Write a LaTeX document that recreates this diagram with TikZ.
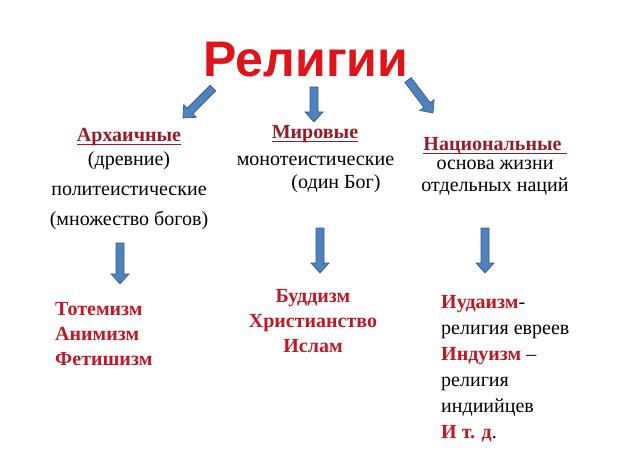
\documentclass[tikz,border=0pt]{standalone}
\usepackage{fontspec}
\setmainfont{Liberation Serif}
\newfontfamily\headfont{Liberation Sans}
\usetikzlibrary{positioning,calc}
\definecolor{titlered}{RGB}{222,20,26}
\definecolor{headred}{RGB}{152,28,40}
\definecolor{listred}{RGB}{192,24,36}
\definecolor{arrowfill}{RGB}{79,129,189}
\definecolor{arrowline}{RGB}{56,93,138}
% tight underline, just under the baseline
\newcommand{\kindline}[1]{\setbox0\hbox{#1}\rlap{\rule[-2.6pt]{\wd0}{1pt}}\box0}
% block arrow from #1 (tail) to #2 (tip)
\newcommand{\blockarrow}[2]{%
  \coordinate (#2h) at ($(#2)!10pt!(#1)$);
  \draw[blockarr] ($(#1)!4pt!90:(#2)$) -- ($(#2h)!4pt!90:(#2)$)
    -- ($(#2h)!9pt!90:(#2)$) -- (#2) -- ($(#2h)!9pt!-90:(#2)$)
    -- ($(#2h)!4pt!-90:(#2)$) -- ($(#1)!4pt!-90:(#2)$) -- cycle;}
\tikzset{
  bigtitle/.style={font=\headfont\bfseries\fontsize{50}{56}\selectfont,text=titlered,inner sep=0pt},
  kind/.style={font=\bfseries\fontsize{20}{24}\selectfont,text=headred,inner sep=0pt},
  note/.style={font=\fontsize{20}{30}\selectfont,align=center,inner sep=0pt},
  faith/.style={font=\bfseries\fontsize{20}{25}\selectfont,text=listred,inner sep=0pt},
  blockarr/.style={fill=arrowfill,draw=arrowline,line width=.7pt,line join=miter}
}
\begin{document}
\begin{tikzpicture}[x=1pt,y=-1pt]
  \useasboundingbox[fill=white] (0,0) rectangle (624,468);
  \node[bigtitle,anchor=base] (rel) at (306,77) {Религии};
  % three kinds (base = last line)
  \node[kind,anchor=base] (arch) at (129,142) {\kindline{Архаичные}};
  \node[note,anchor=base] (archtxt) at (129,225)
     {(древние)\\политеистические\\(множество богов)};
  \node[kind,anchor=base] (world) at (315,139) {\kindline{Мировые}};
  \node[note,anchor=base] (worldtxt) at (315.5,165) {монотеистические};
  \node[note,anchor=base] (god) at (336,189) {(один Бог)};
  \node[kind,anchor=base] (nat) at (495,151) {\kindline{Национальные\ }};
  \node[note,anchor=base,font=\fontsize{20}{21}\selectfont] (nattxt) at (495,191)
     {основа жизни\\отдельных наций};
  % examples
  \node[faith,anchor=base west,align=left] (archlist) at (55,365)
     {Тотемизм\\Анимизм\\Фетишизм};
  \node[faith,anchor=base,align=center] (worldlist) at (313,352)
     {Буддизм\\Христианство\\Ислам};
  \node[note,anchor=base west,align=left,font=\fontsize{20}{26}\selectfont] (natlist) at (441,438)
     {\textcolor{listred}{\bfseries Иудаизм}-\\религия евреев\\
      \textcolor{listred}{\bfseries Индуизм} --\\религия\\индиийцев\\
      \textcolor{listred}{\bfseries И т. д}.};
  % arrows
  \coordinate (a1) at (213,88);  \coordinate (b1) at (183,118);
  \coordinate (a2) at (314,87);  \coordinate (b2) at (314,122);
  \coordinate (a3) at (408,80);  \coordinate (b3) at (433,113);
  \coordinate (c1) at (120,243); \coordinate (d1) at (120,284);
  \coordinate (c2) at (320,228); \coordinate (d2) at (320,273);
  \coordinate (c3) at (485,228); \coordinate (d3) at (485,273);
  \blockarrow{a1}{b1}
  \blockarrow{a2}{b2}
  \blockarrow{a3}{b3}
  \blockarrow{c1}{d1}
  \blockarrow{c2}{d2}
  \blockarrow{c3}{d3}
\end{tikzpicture}
\end{document}
